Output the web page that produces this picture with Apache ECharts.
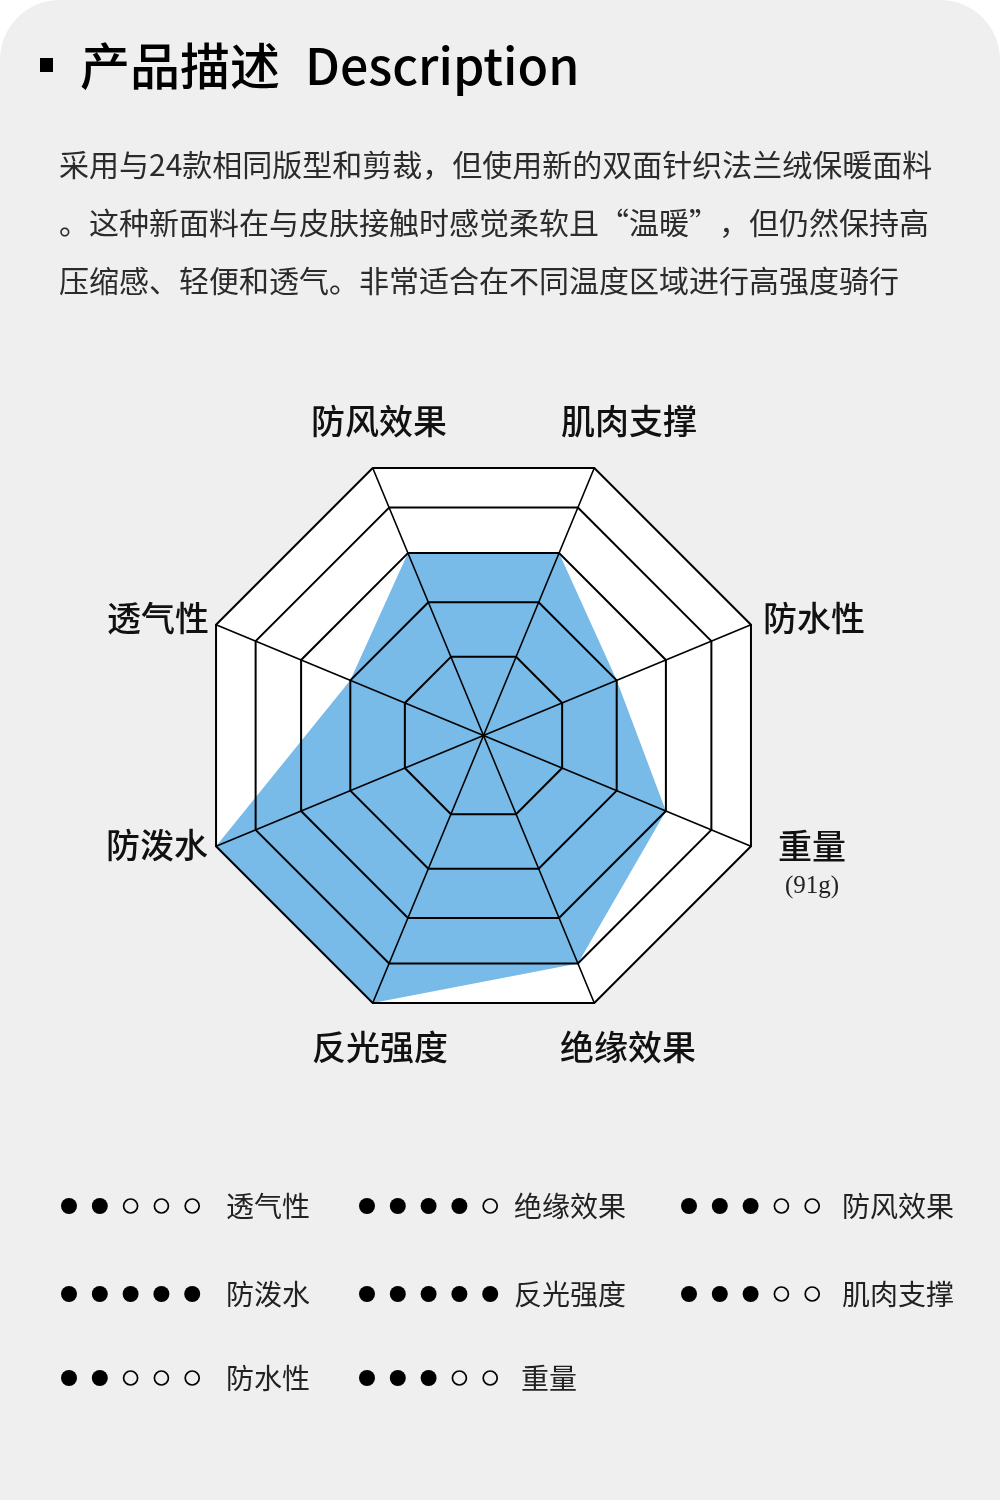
<!DOCTYPE html>
<html><head><meta charset="utf-8">
<script src="https://cdn.jsdelivr.net/npm/echarts@6/dist/echarts.min.js"></script>
<style>
html,body{margin:0;padding:0;background:#fff;}
#c{width:1000px;height:1500px;background:#efefef;border-radius:60px 60px 0 0;}
</style>
</head><body><div id="c"></div>
<script>
// ---- data ----
const categories = ['防风效果', '透气性', '防泼水', '反光强度', '绝缘效果', '重量', '防水性', '肌肉支撑'];
const ratings = [3, 2, 5, 5, 4, 3, 2, 3];
// axis position of each rating level (rings are not evenly spaced in the picture)
const ringLevels = [1.47, 2.49, 3.41, 4.26, 5];
const maxLevel = 5;
const legendOrder = ['透气性', '绝缘效果', '防风效果', '防泼水', '反光强度', '肌肉支撑', '防水性', '重量'];
const weightNote = '(91g)';
const titleCn = '产品描述';
const titleEn = 'Description';
const paragraph = [
  '采用与24款相同版型和剪裁，但使用新的双面针织法兰绒保暖面料',
  '。这种新面料在与皮肤接触时感觉柔软且“温暖”，但仍然保持高',
  '压缩感、轻便和透气。非常适合在不同温度区域进行高强度骑行'
];

// ---- layout ----
const CJK = '"Noto Sans CJK SC", "Noto Sans", sans-serif';
const C = [483.5, 735.5], R = 289.5;
const labelPos = {
  '防风效果': [379, 421], '肌肉支撑': [629, 421], '防水性': [814, 618], '重量': [812, 846],
  '绝缘效果': [628, 1047], '反光强度': [380, 1047], '防泼水': [157, 845], '透气性': [158, 618]
};

const chart = echarts.init(document.getElementById('c'), null, {renderer: 'canvas'});
const indicator = categories.map(n => ({name: n, min: 0, max: maxLevel}));
const base = {
  center: C, startAngle: 112.5, shape: 'polygon', splitNumber: 1, indicator,
  axisName: {show: false}, axisTick: {show: false}, axisLabel: {show: false},
  splitArea: {show: false}, splitLine: {show: false}, axisLine: {show: false}
};
const radars = [
  Object.assign({}, base, {radius: R, z: 0, splitArea: {show: true, areaStyle: {color: ['#ffffff'], opacity: 1}}})
];
ringLevels.forEach(v => radars.push(Object.assign({}, base, {
  radius: R * v / maxLevel, z: 3,
  splitLine: {show: true, lineStyle: {color: '#000', width: 2}}
})));
radars.push(Object.assign({}, base, {radius: R, z: 3, axisLine: {show: true, lineStyle: {color: '#000', width: 1.6}}}));

const graphics = [];
// title
graphics.push({type: 'rect', shape: {x: 40, y: 58, width: 13, height: 14}, style: {fill: '#000'}});
graphics.push({type: 'text', x: 80, y: 66, style: {text: titleCn, font: '500 50px ' + CJK, fill: '#000', textVerticalAlign: 'middle'}});
graphics.push({type: 'text', x: 305, y: 66, style: {text: titleEn, font: '500 50px ' + CJK, fill: '#000', textVerticalAlign: 'middle'}});
paragraph.forEach((t, i) => graphics.push({
  type: 'text', x: 59, y: 165 + i * 58,
  style: {text: t, font: '30px ' + CJK, fill: '#2b2b2b', textVerticalAlign: 'middle'}
}));
// radar labels
categories.forEach(n => {
  const p = labelPos[n];
  graphics.push({type: 'text', x: p[0], y: p[1], style: {text: n, font: '500 34px ' + CJK, fill: '#111', textAlign: 'center', textVerticalAlign: 'middle'}});
});
graphics.push({type: 'text', x: 812, y: 886, style: {text: weightNote, font: '25px "Liberation Serif", serif', fill: '#222', textAlign: 'center', textVerticalAlign: 'middle'}});
// rating legend
const colDot = [69, 367, 689], colLabel = [226, 514, 842], rowY = [1206, 1294, 1378];
legendOrder.forEach((n, i) => {
  const row = Math.floor(i / 3), col = i % 3;
  const r = ratings[categories.indexOf(n)];
  for (let k = 0; k < maxLevel; k++) {
    const filled = k < r;
    graphics.push({type: 'circle', shape: {cx: colDot[col] + k * 30.8, cy: rowY[row], r: filled ? 8 : 7},
      style: filled ? {fill: '#000'} : {fill: 'none', stroke: '#000', lineWidth: 1.7}});
  }
  graphics.push({type: 'text', x: colLabel[col] + (n === '重量' ? 7 : 0), y: rowY[row],
    style: {text: n, font: '28px ' + CJK, fill: '#222', textVerticalAlign: 'middle'}});
});

chart.setOption({
  backgroundColor: 'transparent',
  animation: false,
  radar: radars,
  series: [{
    type: 'radar', radarIndex: 0, z: 2, symbol: 'none', silent: true,
    lineStyle: {width: 0, opacity: 0},
    areaStyle: {color: '#78bbe8', opacity: 1},
    data: [{name: '评分', value: ratings.map(r => ringLevels[r - 1])}]
  }],
  graphic: {elements: graphics}
});
</script>
</body></html>
